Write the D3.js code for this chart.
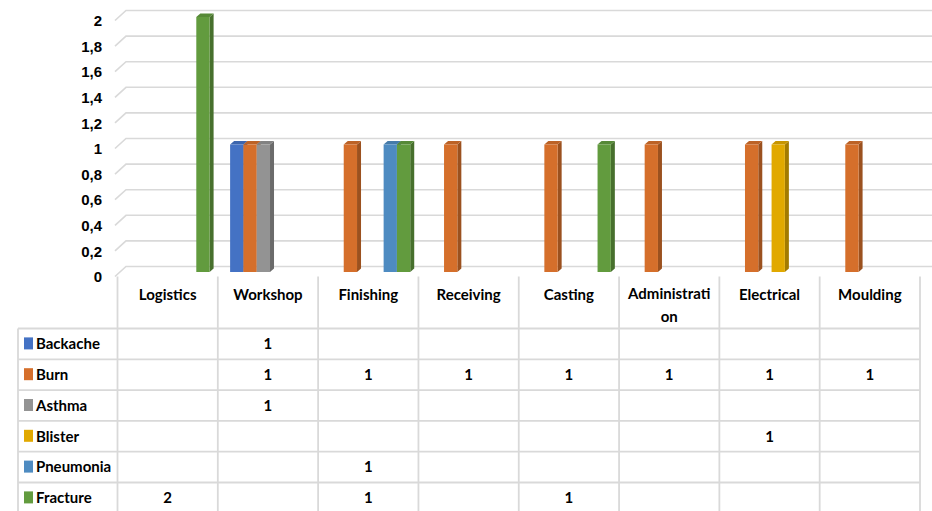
<!DOCTYPE html>
<html><head><meta charset="utf-8">
<script src="https://cdn.jsdelivr.net/npm/d3@7/dist/d3.min.js"></script>
<style>
html,body{margin:0;padding:0;background:#fff;}
svg{display:block;font-family:Lato,"Liberation Sans",sans-serif;font-weight:bold;}
</style></head>
<body>
<svg id="c" width="932" height="511"></svg>
<script>
const categories = ["Logistics","Workshop","Finishing","Receiving","Casting","Administration","Electrical","Moulding"];
const seriesNames = ["Backache","Burn","Asthma","Blister","Pneumonia","Fracture"];
const backache  = [0,1,0,0,0,0,0,0];
const burn      = [0,1,1,1,1,1,1,1];
const asthma    = [0,1,0,0,0,0,0,0];
const blister   = [0,0,0,0,0,0,1,0];
const pneumonia = [0,0,1,0,0,0,0,0];
const fracture  = [2,0,1,0,1,0,0,0];
const yTicks = [0,0.2,0.4,0.6,0.8,1,1.2,1.4,1.6,1.8,2];
const colors = ["#4472C4","#D56F2B","#939393","#E1A900","#4E8BC1","#629B3E"];

const values = [backache,burn,asthma,blister,pneumonia,fracture];
const svg = d3.select("#c");
const W = 932;
const fmt = d3.formatLocale({decimal:",",thousands:".",grouping:[3],currency:["",""]}).format(".1~f");

const x0 = d3.scaleBand().domain(categories).range([117.5, 920]).padding(0);
const bw = x0.bandwidth();
const x1 = d3.scaleBand().domain(seriesNames).range([12.3, 12.3 + 6*13.3]).padding(0);
const yBack = d3.scaleLinear().domain([0,2]).range([266.5, 10.5]);
const yFront = d3.scaleLinear().domain([0,2]).range([272, 17]);
const yLab = d3.scaleLinear().domain([0,2]).range([276.5, 20.5]);

// gridlines (back wall + side)
const grid = svg.append("g");
yTicks.forEach(v => {
  grid.append("path")
    .attr("d", `M115,${yLab(v)}L126,${yBack(v)}L${W},${yBack(v)}`)
    .attr("fill","none").attr("stroke","#D9D9D9").attr("stroke-width",1.6);
});

// y axis labels
const ax = svg.append("g").attr("transform","translate(102,0)")
  .call(d3.axisLeft(yLab).tickValues(yTicks).tickFormat(fmt).tickSize(0).tickPadding(0));
ax.select(".domain").remove();
ax.selectAll("text").attr("font-family",null).attr("font-size",15).attr("fill","#000").attr("dy","0.35em");

// bars (3D)
const dx = 4, dy = -3.5;
const shade = (c,k) => d3.color(c).darker(k).formatHex();
const bars = svg.append("g");
values.forEach((arr, s) => {
  arr.forEach((v, i) => {
    if (!v) return;
    const xl = x0(categories[i]) + x1(seriesNames[s]);
    const w = x1.bandwidth();
    const yt = yFront(v), yb = yFront(0);
    const g = bars.append("g");
    g.append("path").attr("d",`M${xl+w},${yt}L${xl+w+dx},${yt+dy}L${xl+w+dx},${yb+dy}L${xl+w},${yb}Z`)
      .attr("fill", shade(colors[s],0.9));
    g.append("path").attr("d",`M${xl},${yt}L${xl+dx},${yt+dy}L${xl+w+dx},${yt+dy}L${xl+w},${yt}Z`)
      .attr("fill", shade(colors[s],0.35));
    g.append("rect").attr("x",xl).attr("y",yt).attr("width",w).attr("height",yb-yt)
      .attr("fill", colors[s]);
  });
});

// data table
const tbl = svg.append("g");
const lineC = "#D9D9D9", lw = 1.8;
const headTop = 276.5, rowTop = 328.5, rh = 30.8;
const nRows = seriesNames.length;
const bottom = rowTop + nRows*rh;
categories.concat(["_end"]).forEach((c,i) => {
  const x = 117.5 + i*bw;
  tbl.append("line").attr("x1",x).attr("x2",x).attr("y1",headTop).attr("y2",bottom)
    .attr("stroke",lineC).attr("stroke-width",lw);
});
tbl.append("line").attr("x1",18).attr("x2",18).attr("y1",rowTop).attr("y2",bottom)
  .attr("stroke",lineC).attr("stroke-width",lw);
for (let r = 0; r <= nRows; r++) {
  const y = rowTop + r*rh;
  tbl.append("line").attr("x1",18).attr("x2",920).attr("y1",y).attr("y2",y)
    .attr("stroke",lineC).attr("stroke-width",lw);
}

// header labels with character wrapping
const maxW = bw - 12;
categories.forEach((c,i) => {
  const cx = x0(c) + bw/2;
  const t = tbl.append("text").attr("x",cx).attr("y",300).attr("text-anchor","middle")
    .attr("font-size",15).attr("fill","#000").text(c);
  if (t.node().getComputedTextLength() > maxW) {
    let k = c.length;
    while (k > 1) { t.text(c.slice(0,k)); if (t.node().getComputedTextLength() <= maxW) break; k--; }
    t.attr("y",299);
    tbl.append("text").attr("x",cx).attr("y",322).attr("text-anchor","middle")
      .attr("font-size",15).attr("fill","#000").text(c.slice(k));
  }
});

// rows
seriesNames.forEach((s, r) => {
  const yc = rowTop + r*rh + rh/2;
  tbl.append("rect").attr("x",24).attr("y",yc-6.5).attr("width",9).attr("height",12).attr("fill",colors[r]);
  tbl.append("text").attr("x",36).attr("y",yc).attr("dy","0.35em").attr("font-size",15).attr("fill","#000").text(s);
  values[r].forEach((v,i) => {
    if (!v) return;
    tbl.append("text").attr("x",x0(categories[i])+bw/2).attr("y",yc).attr("dy","0.35em")
      .attr("text-anchor","middle").attr("font-size",15).attr("fill","#000").text(v);
  });
});
</script>
</body></html>
